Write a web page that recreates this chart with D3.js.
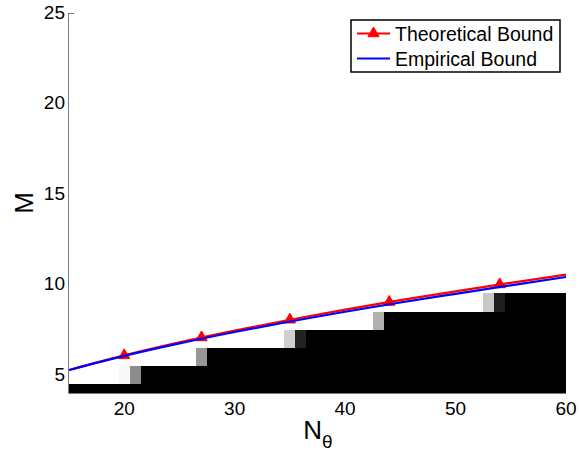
<!DOCTYPE html>
<html>
<head>
<meta charset="utf-8">
<script src="https://cdn.jsdelivr.net/npm/d3@7"></script>
<style>
  body { margin: 0; background: #fff; }
  text { font-family: "Liberation Sans", Arial, sans-serif; fill: #000; }
</style>
</head>
<body>
<div id="chart"></div>
<script>
var W = 579, H = 458;

// x / y ticks
var xTicks = [20, 30, 40, 50, 60];
var yTicks = [5, 10, 15, 20, 25];

// success map: rows of M, black from rowStartN up to 60
var rowM = [4, 5, 6, 7, 8, 9];
var rowStartN = [15, 22, 28, 37, 44, 55];
// partially successful cells (grey level 0..255)
var partialM = [5, 5, 6, 7, 7, 8, 9, 9];
var partialN = [20, 21, 27, 35, 36, 43, 53, 54];
var partialGray = [248, 140, 150, 208, 34, 176, 200, 30];

// bounds
var theoN = [15, 20, 25, 30, 35, 40, 45, 50, 55, 60];
var theoM = [5.27, 6.08, 6.80, 7.45, 8.05, 8.61, 9.13, 9.62, 10.09, 10.54];
var markN = [20, 27, 35, 44, 54];
var markM = [6.08, 7.07, 8.05, 9.03, 10.0];
var empN = [15, 20, 25, 30, 35, 40, 45, 50, 55, 60];
var empM = [5.27, 6.05, 6.74, 7.37, 7.95, 8.49, 9.00, 9.48, 9.95, 10.41];

var x = d3.scaleLinear().domain([15, 60]).range([69, 566]);
var y = d3.scaleLinear().domain([4, 25]).range([393, 13]);

var svg = d3.select("#chart").append("svg")
  .attr("width", W).attr("height", H);

svg.append("defs").append("clipPath").attr("id", "plot")
  .append("rect")
  .attr("x", x(15)).attr("y", y(25))
  .attr("width", x(60) - x(15)).attr("height", y(4) - y(25));

var cells = [];
rowM.forEach(function(m, i) {
  for (var n = rowStartN[i]; n <= 60; n++) cells.push({n: n, m: m, g: 0});
});
partialN.forEach(function(n, i) {
  cells.push({n: n, m: partialM[i], g: partialGray[i]});
});

var plot = svg.append("g").attr("clip-path", "url(#plot)");
plot.selectAll("rect.cell")
  .data(cells)
  .enter().append("rect")
  .attr("class", "cell")
  .attr("x", function(d) { return x(d.n - 0.5); })
  .attr("y", function(d) { return y(d.m + 0.5); })
  .attr("width", function(d) { return x(d.n + 0.5) - x(d.n - 0.5); })
  .attr("height", function(d) { return y(d.m - 0.5) - y(d.m + 0.5); })
  .attr("shape-rendering", "crispEdges")
  .style("fill", function(d) { return d3.rgb(d.g, d.g, d.g); });

// axes
var axisColor = "#7a7a7a";
svg.append("line")
  .attr("x1", x(15) - 0.5).attr("x2", x(15) - 0.5)
  .attr("y1", y(25)).attr("y2", y(4) + 0.5)
  .style("stroke", axisColor);
svg.append("line")
  .attr("x1", x(15) - 0.5).attr("x2", x(60))
  .attr("y1", y(4) + 0.5).attr("y2", y(4) + 0.5)
  .style("stroke", axisColor);
svg.append("line")
  .attr("x1", x(15)).attr("x2", x(15) + 5)
  .attr("y1", y(25) + 0.5).attr("y2", y(25) + 0.5)
  .style("stroke", axisColor);

svg.selectAll("text.ytick")
  .data(yTicks)
  .enter().append("text")
  .attr("class", "ytick")
  .attr("x", x(15) - 4)
  .attr("y", function(d) { return y(d); })
  .attr("dy", "0.3em")
  .attr("text-anchor", "end")
  .style("font-size", "19px")
  .text(function(d) { return d; });

svg.selectAll("text.xtick")
  .data(xTicks)
  .enter().append("text")
  .attr("class", "xtick")
  .attr("x", function(d) { return x(d); })
  .attr("y", y(4) + 22)
  .attr("text-anchor", "middle")
  .style("font-size", "19px")
  .text(function(d) { return d; });

var xl = svg.append("text")
  .attr("x", 318).attr("y", 439)
  .attr("text-anchor", "middle")
  .style("font-size", "26px");
xl.append("tspan").text("N");
xl.append("tspan").attr("dy", 9).style("font-size", "19px").text("θ");

svg.append("text")
  .attr("transform", "translate(33," + y(14.5) + ") rotate(-90)")
  .attr("text-anchor", "middle")
  .style("font-size", "26px")
  .text("M");

// lines
var line = d3.line()
  .x(function(d) { return x(d[0]); })
  .y(function(d) { return y(d[1]); })
  .curve(d3.curveMonotoneX);

plot.append("path")
  .datum(d3.zip(theoN, theoM))
  .attr("d", line)
  .style("fill", "none").style("stroke", "#ff0000").style("stroke-width", 2.2);

var tri = d3.symbol().type(d3.symbolTriangle).size(55);
plot.selectAll("path.mark")
  .data(d3.zip(markN, markM))
  .enter().append("path")
  .attr("class", "mark")
  .attr("d", tri)
  .attr("transform", function(d) { return "translate(" + x(d[0]) + "," + y(d[1]) + ")"; })
  .style("fill", "#ff0000").style("stroke", "#ff0000");

plot.append("path")
  .datum(d3.zip(empN, empM))
  .attr("d", line)
  .style("fill", "none").style("stroke", "#0000ff").style("stroke-width", 2.2);

// legend
var lg = svg.append("g").attr("transform", "translate(351,20)");
lg.append("rect")
  .attr("width", 209).attr("height", 52)
  .style("fill", "#fff").style("stroke", "#000").style("stroke-width", 1.5);
lg.append("line").attr("x1", 6).attr("x2", 39).attr("y1", 13.5).attr("y2", 13.5)
  .style("stroke", "#ff0000").style("stroke-width", 2.2);
lg.append("path").attr("d", tri).attr("transform", "translate(22.5,13.5)")
  .style("fill", "#ff0000").style("stroke", "#ff0000");
lg.append("line").attr("x1", 6).attr("x2", 39).attr("y1", 38.5).attr("y2", 38.5)
  .style("stroke", "#0000ff").style("stroke-width", 2.2);
lg.append("text").attr("x", 44).attr("y", 20.5).style("font-size", "19.5px").text("Theoretical Bound");
lg.append("text").attr("x", 44).attr("y", 45.5).style("font-size", "19.5px").text("Empirical Bound");
</script>
</body>
</html>
